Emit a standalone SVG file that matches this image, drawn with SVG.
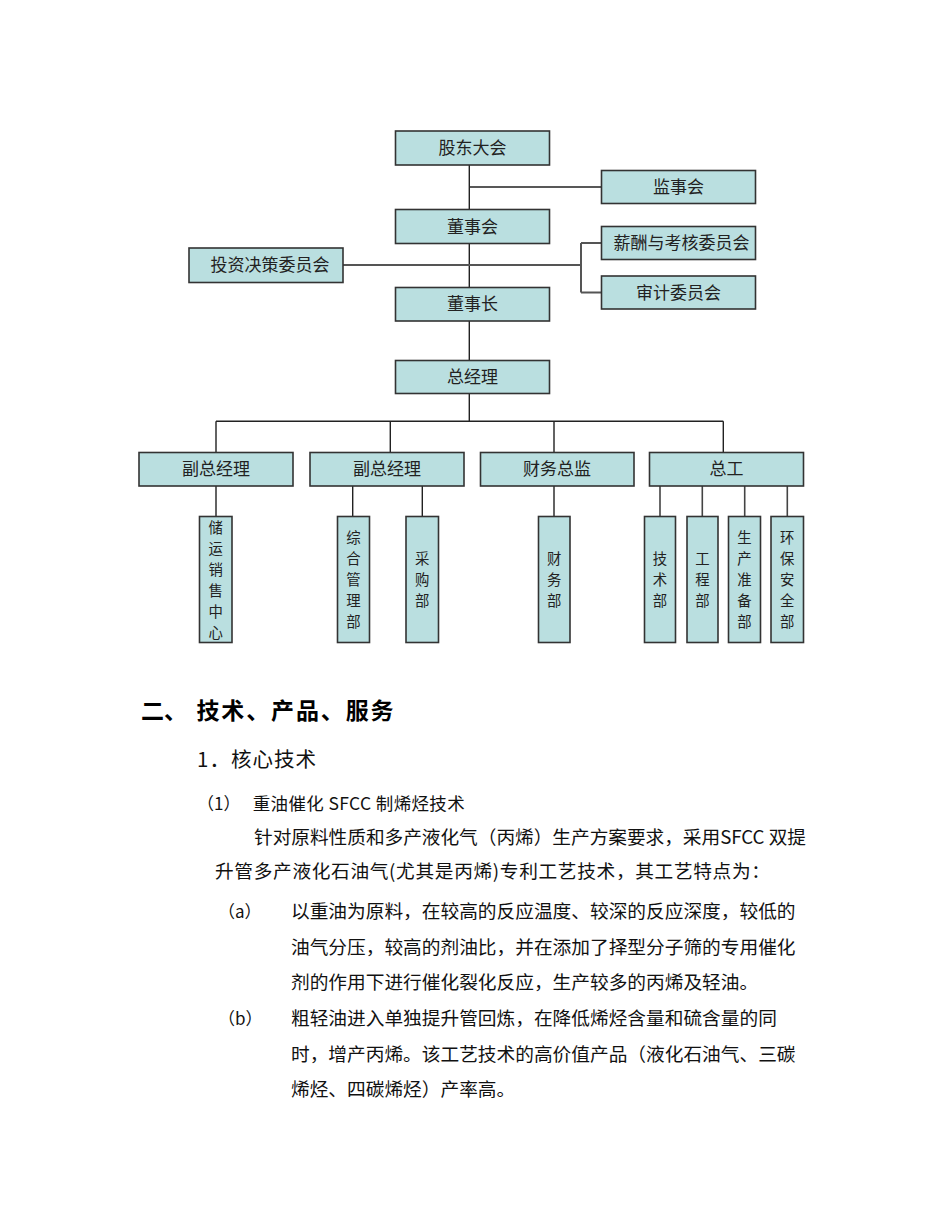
<svg xmlns="http://www.w3.org/2000/svg" width="950" height="1230" viewBox="0 0 950 1230">
<style>
.box{fill:#badfe0;stroke:#333;stroke-width:1.6}
.lbl{font-family:"Noto Sans CJK SC","Noto Sans",sans-serif;font-size:17px;fill:#222;text-anchor:middle}
.vl{font-family:"Noto Sans CJK SC","Noto Sans",sans-serif;font-size:14.4px;fill:#222;text-anchor:middle}
.ln{stroke:#222;stroke-width:1.4;fill:none}
.lg{stroke:#555;stroke-width:2;fill:none}
.body{font-family:"Noto Sans CJK SC","Noto Sans",sans-serif;font-size:18.7px;fill:#111}
.h1{font-family:"Noto Sans CJK SC","Noto Sans",sans-serif;font-size:23px;font-weight:bold;fill:#000}
.h2{font-family:"Noto Sans CJK SC","Noto Sans",sans-serif;font-size:20.5px;fill:#111}
</style>
<rect width="950" height="1230" fill="#fff"/>
<g id="connectors">
<path class="ln" d="M469.3 165V209.5M469.3 187H601.5M469.3 243.5V287.5M469.3 321V360.5M469.3 393.5V421.3"/>
<path class="lg" d="M343 265H581M581 243H601.5M581 292.5H601.5M581 243V292.5"/>
<path class="ln" d="M216 421.3H723.3M216 421.3V452.5M390.3 421.3V452.5M554 421.3V452.5M723.3 421.3V452.5"/>
<path class="ln" d="M216 486V516.5M352.7 486V516.5M422.3 486V516.5M554 486V516.5"/>
<path class="lg" d="M660 486V516.5M702.3 486V516.5M744.7 486V516.5M787.3 486V516.5" style="stroke-width:1.6;stroke:#444"/>
</g>
<g id="n1"><rect class="box" x="395.5" y="131" width="154" height="34"/><text class="lbl" x="472.5" y="154">股东大会</text></g>
<g id="n2"><rect class="box" x="601.5" y="170.5" width="154" height="33"/><text class="lbl" x="678.5" y="193">监事会</text></g>
<g id="n3"><rect class="box" x="395.5" y="209.5" width="154" height="34"/><text class="lbl" x="472.5" y="232.5">董事会</text></g>
<g id="n4"><rect class="box" x="189" y="248" width="154" height="34.5"/><text class="lbl" x="270" y="271">投资决策委员会</text></g>
<g id="n5"><rect class="box" x="601.5" y="226.5" width="154" height="33"/><text class="lbl" x="681.5" y="249">薪酬与考核委员会</text></g>
<g id="n6"><rect class="box" x="601.5" y="276" width="154" height="33"/><text class="lbl" x="678.5" y="298.5">审计委员会</text></g>
<g id="n7"><rect class="box" x="395.5" y="287.5" width="154" height="33.5"/><text class="lbl" x="472.5" y="310">董事长</text></g>
<g id="n8"><rect class="box" x="395.5" y="360.5" width="154" height="33"/><text class="lbl" x="472.5" y="383">总经理</text></g>
<g id="n9"><rect class="box" x="139" y="452.5" width="154" height="33.5"/><text class="lbl" x="216" y="475">副总经理</text></g>
<g id="n10"><rect class="box" x="310" y="452.5" width="154" height="33.5"/><text class="lbl" x="387" y="475">副总经理</text></g>
<g id="n11"><rect class="box" x="480.5" y="452.5" width="153.5" height="33.5"/><text class="lbl" x="557" y="475">财务总监</text></g>
<g id="n12"><rect class="box" x="649.5" y="452.5" width="154" height="33.5"/><text class="lbl" x="726.5" y="475">总工</text></g>
<g id="n13"><rect class="box" x="199.5" y="516.5" width="32.5" height="126"/><text class="vl" x="215.7" y="532.5"><tspan x="215.7">储</tspan><tspan x="215.7" dy="21">运</tspan><tspan x="215.7" dy="21">销</tspan><tspan x="215.7" dy="21">售</tspan><tspan x="215.7" dy="21">中</tspan><tspan x="215.7" dy="21">心</tspan></text></g>
<g id="n14"><rect class="box" x="337.5" y="516.5" width="32" height="126"/><text class="vl" x="353.5" y="543"><tspan x="353.5">综</tspan><tspan x="353.5" dy="21">合</tspan><tspan x="353.5" dy="21">管</tspan><tspan x="353.5" dy="21">理</tspan><tspan x="353.5" dy="21">部</tspan></text></g>
<g id="n15"><rect class="box" x="406" y="516.5" width="32.5" height="126"/><text class="vl" x="422.2" y="564"><tspan x="422.2">采</tspan><tspan x="422.2" dy="21">购</tspan><tspan x="422.2" dy="21">部</tspan></text></g>
<g id="n16"><rect class="box" x="538.5" y="516.5" width="31.5" height="126"/><text class="vl" x="554.2" y="564"><tspan x="554.2">财</tspan><tspan x="554.2" dy="21">务</tspan><tspan x="554.2" dy="21">部</tspan></text></g>
<g id="n17"><rect class="box" x="644.5" y="516.5" width="31" height="126"/><text class="vl" x="660" y="564"><tspan x="660">技</tspan><tspan x="660" dy="21">术</tspan><tspan x="660" dy="21">部</tspan></text></g>
<g id="n18"><rect class="box" x="687" y="516.5" width="31" height="126"/><text class="vl" x="702.5" y="564"><tspan x="702.5">工</tspan><tspan x="702.5" dy="21">程</tspan><tspan x="702.5" dy="21">部</tspan></text></g>
<g id="n19"><rect class="box" x="728.5" y="516.5" width="32" height="126"/><text class="vl" x="744.5" y="543"><tspan x="744.5">生</tspan><tspan x="744.5" dy="21">产</tspan><tspan x="744.5" dy="21">准</tspan><tspan x="744.5" dy="21">备</tspan><tspan x="744.5" dy="21">部</tspan></text></g>
<g id="n20"><rect class="box" x="771" y="516.5" width="32.5" height="126"/><text class="vl" x="787.2" y="543"><tspan x="787.2">环</tspan><tspan x="787.2" dy="21">保</tspan><tspan x="787.2" dy="21">安</tspan><tspan x="787.2" dy="21">全</tspan><tspan x="787.2" dy="21">部</tspan></text></g>
<g id="text">
<text class="h1" x="141" y="719">二、</text>
<text class="h1" x="196.5" y="719" textLength="197" lengthAdjust="spacing">技术、产品、服务</text>
<text class="h2" x="197" y="767" textLength="119" lengthAdjust="spacing">1．核心技术</text>
<text class="body" x="197" y="810" style="font-size:17px">（1）</text>
<text class="body" x="252.7" y="810" style="font-size:17.5px" textLength="212" lengthAdjust="spacing">重油催化 SFCC 制烯烃技术</text>
<text class="body" x="254" y="844" textLength="552" lengthAdjust="spacing">针对原料性质和多产液化气（丙烯）生产方案要求，采用SFCC 双提</text>
<text class="body" x="215" y="878" textLength="555" lengthAdjust="spacing">升管多产液化石油气(尤其是丙烯)专利工艺技术，其工艺特点为：</text>
<text class="body" x="218" y="918" style="font-size:17px">（a）</text>
<text class="body" x="291" y="918">以重油为原料，在较高的反应温度、较深的反应深度，较低的</text>
<text class="body" x="291" y="953.5">油气分压，较高的剂油比，并在添加了择型分子筛的专用催化</text>
<text class="body" x="291" y="989">剂的作用下进行催化裂化反应，生产较多的丙烯及轻油。</text>
<text class="body" x="218" y="1025" style="font-size:17px">（b）</text>
<text class="body" x="291" y="1025">粗轻油进入单独提升管回炼，在降低烯烃含量和硫含量的同</text>
<text class="body" x="291" y="1060.5">时，增产丙烯。该工艺技术的高价值产品（液化石油气、三碳</text>
<text class="body" x="291" y="1096">烯烃、四碳烯烃）产率高。</text>
</g>
</svg>
